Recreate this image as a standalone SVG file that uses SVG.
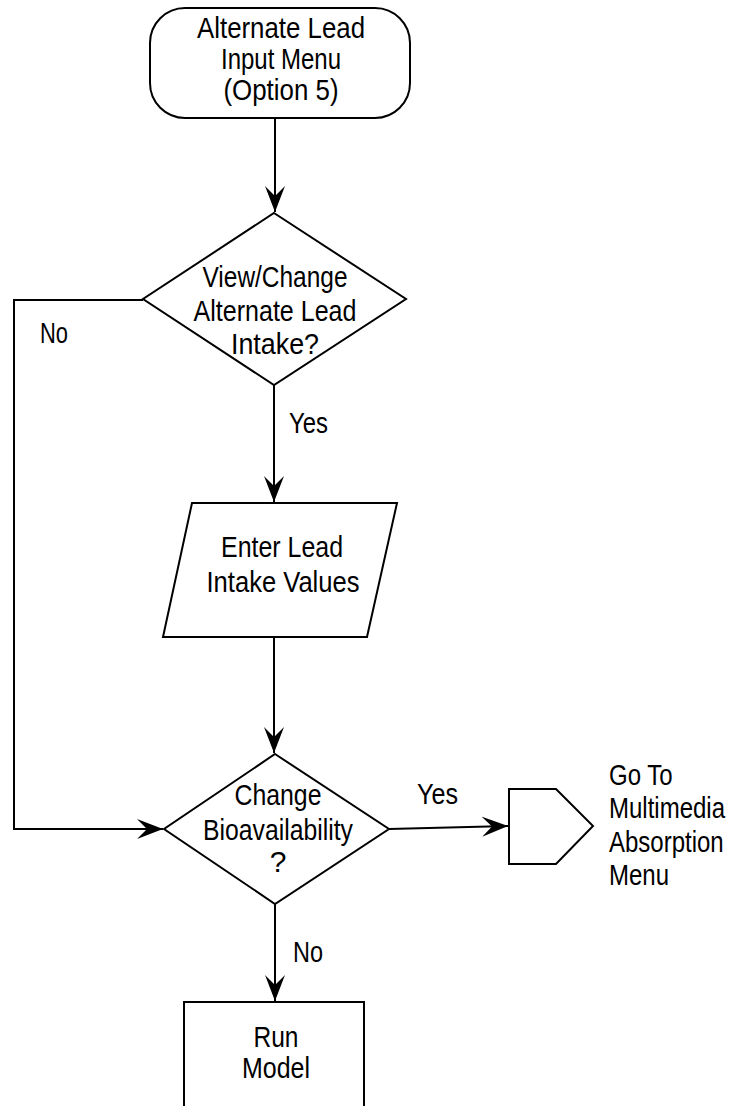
<svg xmlns="http://www.w3.org/2000/svg" width="735" height="1106" viewBox="0 0 735 1106">
<defs>
<style>
.s{fill:#fff;stroke:#000;stroke-width:2;stroke-linejoin:miter}
.c{fill:none;stroke:#000;stroke-width:2}
.t{font-family:"Liberation Sans",Arial,sans-serif;font-size:30px;fill:#000;text-anchor:middle}
.l{font-family:"Liberation Sans",Arial,sans-serif;font-size:30px;fill:#000}
</style>
<marker id="ah" viewBox="-26 -12 28 24" refX="0" refY="0" markerWidth="28" markerHeight="24" markerUnits="userSpaceOnUse" orient="auto">
<path d="M0,0 L-26,-10 L-16,0 L-26,10 Z" fill="#000"/>
</marker>
</defs>
<rect width="735" height="1106" fill="#fff"/>
<g id="connectors">
<line class="c" x1="275" y1="118" x2="275" y2="212" marker-end="url(#ah)"/>
<line class="c" x1="274" y1="385" x2="274" y2="502" marker-end="url(#ah)"/>
<line class="c" x1="274" y1="637" x2="274" y2="753" marker-end="url(#ah)"/>
<polyline class="c" points="143,300 14,300 14,829 163,829" marker-end="url(#ah)"/>
<line class="c" x1="389" y1="829" x2="508" y2="826" marker-end="url(#ah)"/>
<line class="c" x1="275" y1="904" x2="275" y2="1001" marker-end="url(#ah)"/>
<text class="l" x="40" y="343" textLength="28" lengthAdjust="spacingAndGlyphs">No</text>
<text class="l" x="289" y="433" textLength="39" lengthAdjust="spacingAndGlyphs">Yes</text>
<text class="l" x="417" y="804" textLength="41" lengthAdjust="spacingAndGlyphs">Yes</text>
<text class="l" x="293" y="962" textLength="30" lengthAdjust="spacingAndGlyphs">No</text>
</g>
<g id="start">
<rect class="s" x="150" y="8" width="260" height="110" rx="35" ry="35"/>
<text class="t" x="281" y="38" textLength="168" lengthAdjust="spacingAndGlyphs">Alternate Lead</text>
<text class="t" x="281" y="69" textLength="120" lengthAdjust="spacingAndGlyphs">Input Menu</text>
<text class="t" x="281" y="100" textLength="115" lengthAdjust="spacingAndGlyphs">(Option 5)</text>
</g>
<g id="decision1">
<polygon class="s" points="274,213 406,299 274,385 143,299"/>
<text class="t" x="275" y="287" textLength="145" lengthAdjust="spacingAndGlyphs">View/Change</text>
<text class="t" x="275" y="321" textLength="163" lengthAdjust="spacingAndGlyphs">Alternate Lead</text>
<text class="t" x="275" y="354" textLength="88" lengthAdjust="spacingAndGlyphs">Intake?</text>
</g>
<g id="input">
<polygon class="s" points="192,503 397,503 367,637 163,637"/>
<text class="t" x="282" y="557" textLength="122" lengthAdjust="spacingAndGlyphs">Enter Lead</text>
<text class="t" x="283" y="592" textLength="153" lengthAdjust="spacingAndGlyphs">Intake Values</text>
</g>
<g id="decision2">
<polygon class="s" points="275,754 389,829 275,904 164,829"/>
<text class="t" x="278" y="805" textLength="87" lengthAdjust="spacingAndGlyphs">Change</text>
<text class="t" x="278" y="840" textLength="150" lengthAdjust="spacingAndGlyphs">Bioavailability</text>
<text class="t" x="278" y="872">?</text>
</g>
<g id="offpage">
<polygon class="s" points="509,789 556,789 593,826 556,864 509,864"/>
<g transform="translate(609,0) scale(0.8,1)">
<text class="l" x="0" y="785">Go To</text>
<text class="l" x="0" y="818">Multimedia</text>
<text class="l" x="0" y="852">Absorption</text>
<text class="l" x="0" y="885">Menu</text>
</g>
</g>
<g id="run">
<rect class="s" x="184" y="1002" width="180" height="110"/>
<text class="t" x="276" y="1047" textLength="45" lengthAdjust="spacingAndGlyphs">Run</text>
<text class="t" x="276" y="1078" textLength="68" lengthAdjust="spacingAndGlyphs">Model</text>
</g>
</svg>
